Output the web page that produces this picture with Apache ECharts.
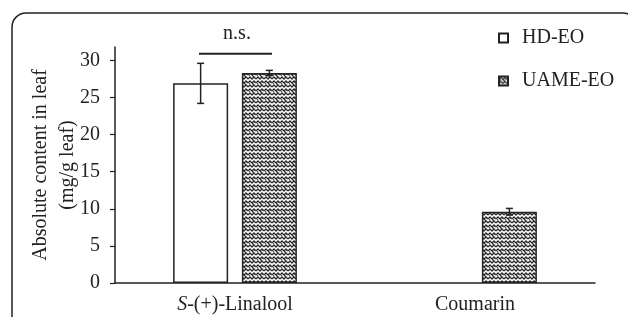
<!DOCTYPE html>
<html>
<head>
    <meta charset="utf-8">
    <title>Absolute content in leaf</title>
    <script src="https://cdn.jsdelivr.net/npm/echarts@6/dist/echarts.min.js"></script>
</head>
<body style="margin:0">
<div id="main" style="width: 628px;height:317px;"></div>
<script type="text/javascript">
    var categories = ['S-(+)-Linalool', 'Coumarin'];
    var hdValues = [26.9, '-'];
    var hdErrors = [2.7, 0];
    var uameValues = [28.3, 9.6];
    var uameErrors = [0.35, 0.45];
    var yTicks = [0, 5, 10, 15, 20, 25, 30];

    var FONT = 'Liberation Serif';
    var BAR_W = 55;
    var BAR_GAP = 0.25;

    // hatch tile for UAME-EO
    function makeHatch() {
        var c = document.createElement('canvas');
        c.width = 8; c.height = 8;
        var ctx = c.getContext('2d');
        ctx.fillStyle = '#fff';
        ctx.fillRect(0, 0, 8, 8);
        ctx.strokeStyle = '#2a2a2a';
        ctx.lineWidth = 1.3;
        ctx.beginPath();
        ctx.moveTo(0, 3); ctx.lineTo(2, 1); ctx.lineTo(4, 3); ctx.lineTo(6, 1); ctx.lineTo(8, 3);
        ctx.moveTo(0, 7); ctx.lineTo(2, 5); ctx.lineTo(4, 7); ctx.lineTo(6, 5); ctx.lineTo(8, 7);
        ctx.moveTo(4, 3); ctx.lineTo(6, 5);
        ctx.stroke();
        ctx.fillStyle = '#555';
        ctx.fillRect(1, 3, 1, 1);
        ctx.fillRect(6, 2, 1, 1);
        return c;
    }
    var hatch = { image: makeHatch(), repeat: 'repeat' };

    function errData(values, errors) {
        var out = [];
        for (var i = 0; i < values.length; i++) {
            if (values[i] !== '-' && errors[i] > 0) out.push([i, values[i], errors[i]]);
        }
        return out;
    }

    function errRender(side) {
        return function (params, api) {
            var base = api.coord([api.value(0), api.value(1)]);
            var off = side * (BAR_W + BAR_W * BAR_GAP) / 2;
            var x = base[0] + off;
            var top = api.coord([api.value(0), api.value(1) + api.value(2)])[1];
            var bot = api.coord([api.value(0), api.value(1) - api.value(2)])[1];
            var st = { stroke: '#222', lineWidth: 1.5 };
            return {
                type: 'group',
                children: [
                    { type: 'line', shape: { x1: x, y1: top, x2: x, y2: bot }, style: st },
                    { type: 'line', shape: { x1: x - 3.5, y1: top, x2: x + 3.5, y2: top }, style: st },
                    { type: 'line', shape: { x1: x - 3.5, y1: bot, x2: x + 3.5, y2: bot }, style: st }
                ]
            };
        };
    }

    var myChart = echarts.init(document.getElementById('main'));

    var option = {
        animation: false,
        textStyle: { fontFamily: FONT, color: '#222' },
        grid: { left: 115, right: 33, top: 47, bottom: 34 },
        legend: {
            data: ['HD-EO', 'UAME-EO'],
            orient: 'vertical',
            left: 493,
            top: 23,
            icon: 'rect',
            itemWidth: 9,
            itemHeight: 9,
            itemGap: 23,
            textStyle: { fontFamily: FONT, fontSize: 20, color: '#222', padding: [0, 0, 0, 9] }
        },
        xAxis: {
            type: 'category',
            data: categories,
            axisTick: { show: false },
            axisLine: { lineStyle: { color: '#222', width: 1.5 } },
            axisLabel: {
                margin: 12,
                fontSize: 20,
                color: '#222',
                fontFamily: FONT,
                formatter: function (v) {
                    return v.indexOf('S-') === 0 ? '{i|S}' + v.slice(1) : v;
                },
                rich: { i: { fontStyle: 'italic', fontSize: 20, fontFamily: FONT, color: '#222' } }
            }
        },
        yAxis: {
            type: 'value',
            min: 0,
            max: 31.8,
            name: 'Absolute content in leaf\n(mg/g leaf)',
            nameLocation: 'middle',
            nameGap: 34,
            nameMoveOverlap: false,
            nameTextStyle: { fontFamily: FONT, fontSize: 20, lineHeight: 27, color: '#222' },
            splitLine: { show: false },
            axisLine: { show: true, lineStyle: { color: '#222', width: 1.5 } },
            axisTick: { show: true, length: 5, customValues: yTicks, lineStyle: { color: '#222', width: 1.2 } },
            axisLabel: { customValues: yTicks, margin: 15, fontSize: 20, fontFamily: FONT, color: '#222' }
        },
        series: [{
            name: 'HD-EO',
            type: 'bar',
            data: hdValues,
            barWidth: BAR_W,
            barGap: (BAR_GAP * 100) + '%',
            itemStyle: { color: '#fff', borderColor: '#222', borderWidth: 1.5 }
        }, {
            name: 'UAME-EO',
            type: 'bar',
            data: uameValues,
            barWidth: BAR_W,
            itemStyle: { color: hatch, borderColor: '#222', borderWidth: 1.5 }
        }, {
            type: 'custom',
            data: errData(hdValues, hdErrors),
            renderItem: errRender(-1),
            z: 5
        }, {
            type: 'custom',
            data: errData(uameValues, uameErrors),
            renderItem: errRender(1),
            z: 5
        }]
    };

    myChart.setOption(option);

    // frame and significance mark
    var c0 = myChart.convertToPixel({ xAxisIndex: 0 }, categories[0]);
    var yLine = myChart.convertToPixel({ yAxisIndex: 0 }, 30.9);
    myChart.setOption({
        graphic: [{
            type: 'rect',
            shape: { x: 12, y: 13, width: 625, height: 400, r: 14 },
            style: { fill: 'none', stroke: '#222', lineWidth: 1.5 },
            silent: true
        }, {
            type: 'line',
            shape: { x1: c0 - 36, y1: yLine, x2: c0 + 37, y2: yLine },
            style: { stroke: '#222', lineWidth: 2 }
        }, {
            type: 'text',
            x: c0 + 2,
            y: yLine - 10,
            style: { text: 'n.s.', fontFamily: FONT, fontSize: 20, fill: '#222', align: 'center', verticalAlign: 'bottom' }
        }]
    });
</script>
</body>
</html>
